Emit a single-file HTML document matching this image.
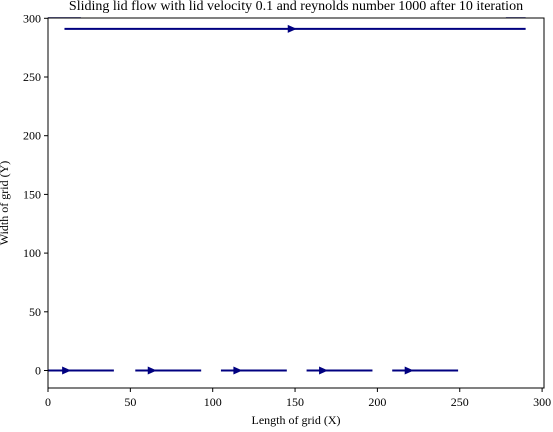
<!DOCTYPE html>
<html><head><meta charset="utf-8"><style>
body{margin:0;background:#fff;}
svg text{font-family:"Liberation Serif","DejaVu Serif",serif;fill:#000;}
</style></head><body>
<svg width="553" height="427" xmlns="http://www.w3.org/2000/svg">
<text x="296" y="10" text-anchor="middle" font-size="14">Sliding lid flow with lid velocity 0.1 and reynolds number 1000 after 10 iteration</text>
<g id="plot"></g>
<rect x="48" y="18" width="496" height="370" fill="none" stroke="#000" stroke-width="1"/>
<g id="xt"></g><g id="yt"></g>
<text x="296" y="424" text-anchor="middle" font-size="12">Length of grid (X)</text>
<text transform="translate(8,203) rotate(-90)" text-anchor="middle" font-size="12">Width of grid (Y)</text>
</svg>
<script>
const xTicks=[0,50,100,150,200,250,300];
const yTicks=[0,50,100,150,200,250,300];
const segStartX=[0,53,105,157,209];
const segEndX=[40,93,145,197,249];
const segArrowX=[11,63,115,167,219];
const segY=[0,0,0,0,0];
const topStart=[10];const topEnd=[290];const topArrow=[148];const topY=[291];
const X=v=>48+v*1.647, Y=v=>370.5-v*1.174;
const NS="http://www.w3.org/2000/svg";
function mk(t,a,p){const e=document.createElementNS(NS,t);for(const k in a)e.setAttribute(k,a[k]);p.appendChild(e);return e;}
const plot=document.getElementById('plot'),xt=document.getElementById('xt'),yt=document.getElementById('yt');
xTicks.forEach(v=>{mk('line',{x1:X(v),x2:X(v),y1:388,y2:392,stroke:'#000'},xt);
const t=mk('text',{x:X(v),y:406,'text-anchor':'middle','font-size':12},xt);t.textContent=v;

});
yTicks.forEach(v=>{mk('line',{x1:44,x2:48,y1:Y(v),y2:Y(v),stroke:'#000'},yt);
const t=mk('text',{x:41,y:Y(v)+4,'text-anchor':'end','font-size':12},yt);t.textContent=v;

});
function stream(x0,x1,xa,y,name){
const g=mk('g',{},plot);


mk('line',{x1:X(x0),x2:X(x1),y1:Y(y),y2:Y(y),stroke:'#000080','stroke-width':2},g);
const ax=X(xa),ay=Y(y);
mk('polygon',{points:`${ax-4},${ay-4} ${ax+5},${ay} ${ax-4},${ay+4}`,fill:'#000080'},g);}
segStartX.forEach((s,i)=>stream(s,segEndX[i],segArrowX[i],segY[i],'bottom-streamline'));
topStart.forEach((s,i)=>stream(s,topEnd[i],topArrow[i],topY[i],'top-streamline'));
mk('line',{x1:X(0),x2:X(20),y1:Y(300.5),y2:Y(300.5),stroke:'#000080','stroke-width':1},plot);
mk('line',{x1:X(278),x2:X(290),y1:Y(300.5),y2:Y(300.5),stroke:'#000080','stroke-width':1},plot);
</script>
</body></html>
